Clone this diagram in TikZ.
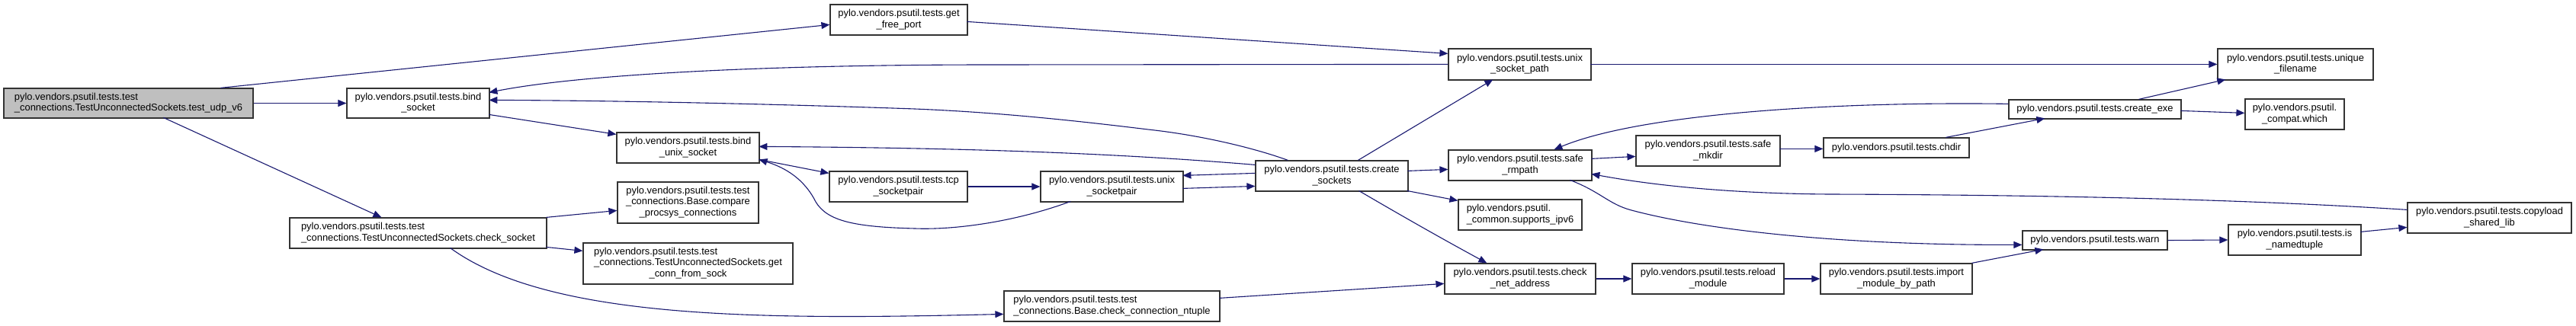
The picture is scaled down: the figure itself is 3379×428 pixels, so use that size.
\documentclass[tikz,border=0pt]{standalone}
\usepackage{fontspec}
\setmainfont{Liberation Sans}
\usetikzlibrary{arrows.meta,calc}
\definecolor{midblue}{HTML}{191970}
\definecolor{boxline}{HTML}{333333}
\definecolor{rootfill}{HTML}{BFBFBF}
\newcommand\ctab[1]{\begin{tabular}{@{}c@{}}#1\end{tabular}}
\newcommand\ltab[1]{\begin{tabular}{@{}l@{}}#1\end{tabular}}
\newcommand\mcc[1]{\multicolumn{1}{@{}c@{}}{#1}}
\newcommand\nodefont{\fontsize{12.9}{14.5}\selectfont}
\tikzset{
  fbox/.style={rectangle, draw=boxline, line width=1.2pt, fill=white, inner sep=0pt, font=\nodefont, text=black},
  calls/.style={draw=midblue, line width=1.1pt, -{Triangle[length=11pt,width=9pt]}},
}
\begin{document}
\begin{tikzpicture}[x=1pt,y=-1pt]
\useasboundingbox (0,0) rectangle (3379,428);
% nodes
\node[fbox, fill=rootfill, minimum width=327pt, minimum height=39pt] (udp) at (168.5,135.5) {\ltab{pylo.vendors.psutil.tests.test\\\_connections.TestUnconnectedSockets.test\_udp\_v6}};
\node[fbox, minimum width=187pt, minimum height=39pt] (bind) at (548.5,135.5) {\ctab{pylo.vendors.psutil.tests.bind\\\_socket}};
\node[fbox, minimum width=337pt, minimum height=40pt] (chk) at (548.5,306) {\ltab{pylo.vendors.psutil.tests.test\\\_connections.TestUnconnectedSockets.check\_socket}};
\node[fbox, minimum width=180pt, minimum height=40pt] (free) at (1179,26) {\ctab{pylo.vendors.psutil.tests.get\\\_free\_port}};
\node[fbox, minimum width=187pt, minimum height=40pt] (bus) at (902.5,194) {\ctab{pylo.vendors.psutil.tests.bind\\\_unix\_socket}};
\node[fbox, minimum width=185pt, minimum height=54pt] (cmp) at (902.5,266) {\ctab{pylo.vendors.psutil.tests.test\\\_connections.Base.compare\\\_procsys\_connections}};
\node[fbox, minimum width=275pt, minimum height=54pt] (gcs) at (902.5,346) {\ltab{pylo.vendors.psutil.tests.test\\\_connections.TestUnconnectedSockets.get\\\mcc{\_conn\_from\_sock}}};
\node[fbox, minimum width=181pt, minimum height=40pt] (tcp) at (1178.5,245) {\ctab{pylo.vendors.psutil.tests.tcp\\\_socketpair}};
\node[fbox, minimum width=187pt, minimum height=40pt] (usp) at (1458.5,245) {\ctab{pylo.vendors.psutil.tests.unix\\\_socketpair}};
\node[fbox, minimum width=200pt, minimum height=40pt] (cs) at (1747,231) {\ctab{pylo.vendors.psutil.tests.create\\\_sockets}};
\node[fbox, minimum width=283pt, minimum height=40pt] (ccn) at (1458.5,402) {\ltab{pylo.vendors.psutil.tests.test\\\_connections.Base.check\_connection\_ntuple}};
\node[fbox, minimum width=187pt, minimum height=41pt] (usk) at (1993.5,84.5) {\ctab{pylo.vendors.psutil.tests.unix\\\_socket\_path}};
\node[fbox, minimum width=188pt, minimum height=40pt] (srm) at (1994,217) {\ctab{pylo.vendors.psutil.tests.safe\\\_rmpath}};
\node[fbox, minimum width=162pt, minimum height=40pt] (ipv) at (1994,282) {\ltab{pylo.vendors.psutil.\\\_common.supports\_ipv6}};
\node[fbox, minimum width=198pt, minimum height=40pt] (cna) at (1994,366) {\ctab{pylo.vendors.psutil.tests.check\\\_net\_address}};
\node[fbox, minimum width=189pt, minimum height=40pt] (smk) at (2240.5,198) {\ctab{pylo.vendors.psutil.tests.safe\\\_mkdir}};
\node[fbox, minimum width=199pt, minimum height=40pt] (rld) at (2240.5,366) {\ctab{pylo.vendors.psutil.tests.reload\\\_module}};
\node[fbox, minimum width=191pt, minimum height=26pt] (chd) at (2487.5,194) {pylo.vendors.psutil.tests.chdir};
\node[fbox, minimum width=199pt, minimum height=40pt] (imp) at (2487.5,366) {\ctab{pylo.vendors.psutil.tests.import\\\_module\_by\_path}};
\node[fbox, minimum width=204pt, minimum height=41pt] (uniq) at (3011,84.5) {\ctab{pylo.vendors.psutil.tests.unique\\\_filename}};
\node[fbox, minimum width=226pt, minimum height=25pt] (cexe) at (2748,143.5) {pylo.vendors.psutil.tests.create\_exe};
\node[fbox, minimum width=130pt, minimum height=40pt] (which) at (3010,150) {\ctab{pylo.vendors.psutil.\\\_compat.which}};
\node[fbox, minimum width=190pt, minimum height=25pt] (warn) at (2748,315.5) {pylo.vendors.psutil.tests.warn};
\node[fbox, minimum width=174pt, minimum height=40pt] (isnt) at (3010,315) {\ctab{pylo.vendors.psutil.tests.is\\\_namedtuple}};
\node[fbox, minimum width=215pt, minimum height=40pt] (cpl) at (3265.5,286) {\ctab{pylo.vendors.psutil.tests.copyload\\\_shared\_lib}};
% connectors
\draw[calls] ($(udp.north west)+(285,0)$) -- ($(free.north west)+(0,27)$);
\draw[calls] (udp.east) -- (bind.west);
\draw[calls] ($(udp.north west)+(210,39)$) -- ($(chk.north west)+(121,0)$);
\draw[calls] ($(free.north west)+(180,23)$) -- ($(usk.north west)+(0,7)$);
\draw[calls] ($(usk.north west)+(0,21)$) -- (1300,85) .. controls (1000,85) and (760,98) .. ($(bind.north west)+(187,6)$);
\draw[calls] ($(usk.north west)+(187,21)$) -- ($(uniq.north west)+(0,21)$);
\draw[calls] ($(bind.north west)+(187,35)$) -- ($(bus.north west)+(0,3)$);
\draw[calls] ($(cs.north west)+(43,0)$) .. controls (1650,196) and (1580,178) .. (1506,170) .. controls (1400,157) and (1300,147) .. (1200,143) .. controls (1000,136) and (800,132) .. ($(bind.north west)+(187,16)$);
\draw[calls] ($(cs.north west)+(0,6)$) .. controls (1450,200) and (1250,194) .. ($(bus.north west)+(187,19)$);
\draw[calls] ($(cs.north west)+(0,17)$) -- ($(usp.north west)+(187,6)$);
\draw[calls] ($(usp.north west)+(187,23)$) -- ($(cs.north west)+(0,34)$);
\draw[calls] ($(usp.north west)+(40,40)$) .. controls (1330,292) and (1250,302) .. (1200,300) .. controls (1120,298) and (1085,290) .. (1070,265) .. controls (1055,235) and (1030,220) .. ($(bus.north west)+(187,36)$);
\draw[calls] ($(bus.north west)+(187,36)$) -- ($(tcp.north west)+(0,3)$);
\draw[calls] (tcp.east) -- (usp.west);
\draw[calls] ($(cs.north west)+(135,0)$) -- ($(usk.north west)+(59,41)$);
\draw[calls] ($(cs.north west)+(200,14)$) -- ($(srm.north west)+(0,26)$);
\draw[calls] ($(cs.north west)+(199,40)$) -- ($(ipv.north west)+(0,2)$);
\draw[calls] ($(cs.north west)+(136,40)$) .. controls (1850,290) and (1900,318) .. ($(cna.north west)+(56,0)$);
\draw[calls] ($(chk.north west)+(337,0)$) -- ($(cmp.north west)+(0,38)$);
\draw[calls] ($(chk.north west)+(337,39)$) -- ($(gcs.north west)+(0,11)$);
\draw[calls] ($(chk.north west)+(211,40)$) .. controls (720,420) and (1000,420) .. ($(ccn.north west)+(0,31)$);
\draw[calls] ($(ccn.north west)+(283,10)$) -- ($(cna.north west)+(0,27)$);
\draw[calls] ($(srm.north west)+(188,12)$) -- ($(smk.north west)+(0,28)$);
\draw[calls] ($(smk.north west)+(189,18)$) -- ($(chd.north west)+(0,15)$);
\draw[calls] ($(chd.north west)+(161,0)$) -- ($(cexe.north west)+(48,25)$);
\draw[calls] ($(cexe.north west)+(0,6)$) .. controls (2400,133) and (2150,150) .. ($(srm.north west)+(139,0)$);
\draw[calls] ($(cexe.north west)+(171,0)$) -- ($(uniq.north west)+(11,41)$);
\draw[calls] ($(cexe.north west)+(226,15)$) -- ($(which.north west)+(0,19)$);
\draw[calls] ($(cpl.north west)+(0,10)$) .. controls (2950,262) and (2700,256) .. (2400,255) .. controls (2250,254) and (2150,240) .. ($(srm.north west)+(188,32)$);
\draw[calls] ($(srm.north west)+(160,40)$) .. controls (2100,252) and (2110,268) .. (2140,276) .. controls (2230,300) and (2400,322) .. ($(warn.north west)+(0,19)$);
\draw[calls] (cna.east) -- (rld.west);
\draw[calls] (rld.east) -- (imp.west);
\draw[calls] ($(imp.north west)+(199,0)$) -- ($(warn.north west)+(28,25)$);
\draw[calls] (warn.east) -- (isnt.west);
\draw[calls] ($(isnt.north west)+(174,10)$) -- ($(cpl.north west)+(0,33)$);
\end{tikzpicture}
\end{document}
